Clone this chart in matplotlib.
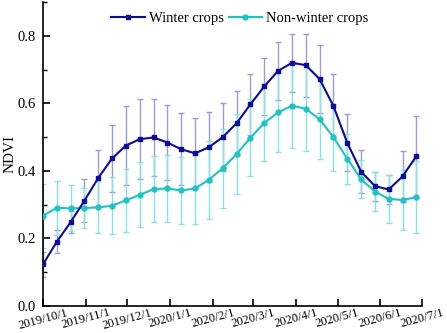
import matplotlib
matplotlib.use("Agg")
import matplotlib.pyplot as plt
import matplotlib.transforms as mtransforms
import datetime

plt.rcParams['font.family'] = ['Liberation Serif', 'DejaVu Serif']

# 10-day composites starting 2019/10/1
start = datetime.date(2019, 10, 1)
dates = [start + datetime.timedelta(days=10 * i) for i in range(28)]

winter = [0.123, 0.190, 0.248, 0.312, 0.379, 0.437, 0.475, 0.494, 0.499, 0.484,
          0.464, 0.452, 0.470, 0.500, 0.541, 0.597, 0.650, 0.696, 0.720, 0.713,
          0.672, 0.592, 0.483, 0.398, 0.355, 0.345, 0.384, 0.444]
winter_sd = [0.037, 0.034, 0.033, 0.063, 0.083, 0.100, 0.117, 0.119, 0.114, 0.110,
             0.106, 0.104, 0.104, 0.101, 0.095, 0.090, 0.085, 0.085, 0.086, 0.093,
             0.100, 0.094, 0.084, 0.063, 0.043, 0.044, 0.075, 0.120]
nonwinter = [0.267, 0.291, 0.289, 0.290, 0.292, 0.297, 0.313, 0.329, 0.346, 0.348,
             0.342, 0.348, 0.374, 0.408, 0.450, 0.498, 0.542, 0.573, 0.593, 0.584,
             0.553, 0.500, 0.436, 0.375, 0.339, 0.317, 0.314, 0.322]
nonwinter_sd = [0.094, 0.080, 0.068, 0.060, 0.077, 0.084, 0.094, 0.096, 0.098, 0.098,
                0.099, 0.105, 0.115, 0.117, 0.117, 0.114, 0.114, 0.117, 0.124, 0.125,
                0.119, 0.099, 0.074, 0.056, 0.058, 0.071, 0.088, 0.107]

tick_dates = [datetime.date(2019, 10, 1), datetime.date(2019, 11, 1), datetime.date(2019, 12, 1),
              datetime.date(2020, 1, 1), datetime.date(2020, 2, 1), datetime.date(2020, 3, 1),
              datetime.date(2020, 4, 1), datetime.date(2020, 5, 1), datetime.date(2020, 6, 1),
              datetime.date(2020, 7, 1)]
tick_labels = ['2019/10/1', '2019/11/1', '2019/12/1', '2020/1/1', '2020/2/1',
               '2020/3/1', '2020/4/1', '2020/5/1', '2020/6/1', '2020/7/1']

fig = plt.figure(figsize=(4.47, 3.33), dpi=100)
ax = fig.add_axes([0.096, 0.081, 0.848, 0.913])

c_win = '#0c0c98'
c_non = '#1cc4c4'

ax.errorbar(dates, winter, yerr=winter_sd, fmt='none', ecolor='#9a9ad8',
            elinewidth=1.0, capsize=2.5, capthick=1.0, zorder=2)
ax.errorbar(dates, nonwinter, yerr=nonwinter_sd, fmt='none', ecolor='#86e4e4',
            elinewidth=1.0, capsize=2.5, capthick=1.0, zorder=2)
ax.plot(dates, winter, color=c_win, lw=1.5, marker='s', markersize=3.5,
        label='Winter crops', zorder=4)
ax.plot(dates, nonwinter, color=c_non, lw=1.5, marker='o', markersize=3.5,
        label='Non-winter crops', zorder=3)

ax.set_xlim(datetime.date(2019, 10, 1), datetime.date(2020, 7, 1))
ax.set_ylim(0, 0.9)
ax.set_yticks([0.0, 0.2, 0.4, 0.6, 0.8])
ax.set_yticks([0.1, 0.3, 0.5, 0.7, 0.9], minor=True)
ax.set_xticks(tick_dates)
ax.set_xticklabels(tick_labels, rotation=15, ha='center', fontsize=9)
offset = mtransforms.ScaledTranslation(4 / 100, 0, fig.dpi_scale_trans)
for lab in ax.get_xticklabels():
    lab.set_transform(lab.get_transform() + offset)

ax.tick_params(axis='both', which='major', direction='in', length=5, width=1.2)
ax.tick_params(axis='y', which='major', labelsize=10.5, pad=5)
ax.tick_params(axis='y', which='minor', direction='in', length=3, width=1.0)
ax.tick_params(axis='x', pad=0.5)

ax.spines['top'].set_visible(False)
ax.spines['right'].set_visible(False)
ax.spines['left'].set_linewidth(1.2)
ax.spines['bottom'].set_linewidth(1.2)

ax.set_ylabel('NDVI', fontsize=11, labelpad=1)

ax.legend(loc='upper center', bbox_to_anchor=(0.52, 1.0), ncol=2, frameon=False,
          fontsize=10.5, handlelength=2.3, handletextpad=0.3, columnspacing=0.3,
          borderaxespad=0.3)

plt.savefig('out.png', dpi=100)
